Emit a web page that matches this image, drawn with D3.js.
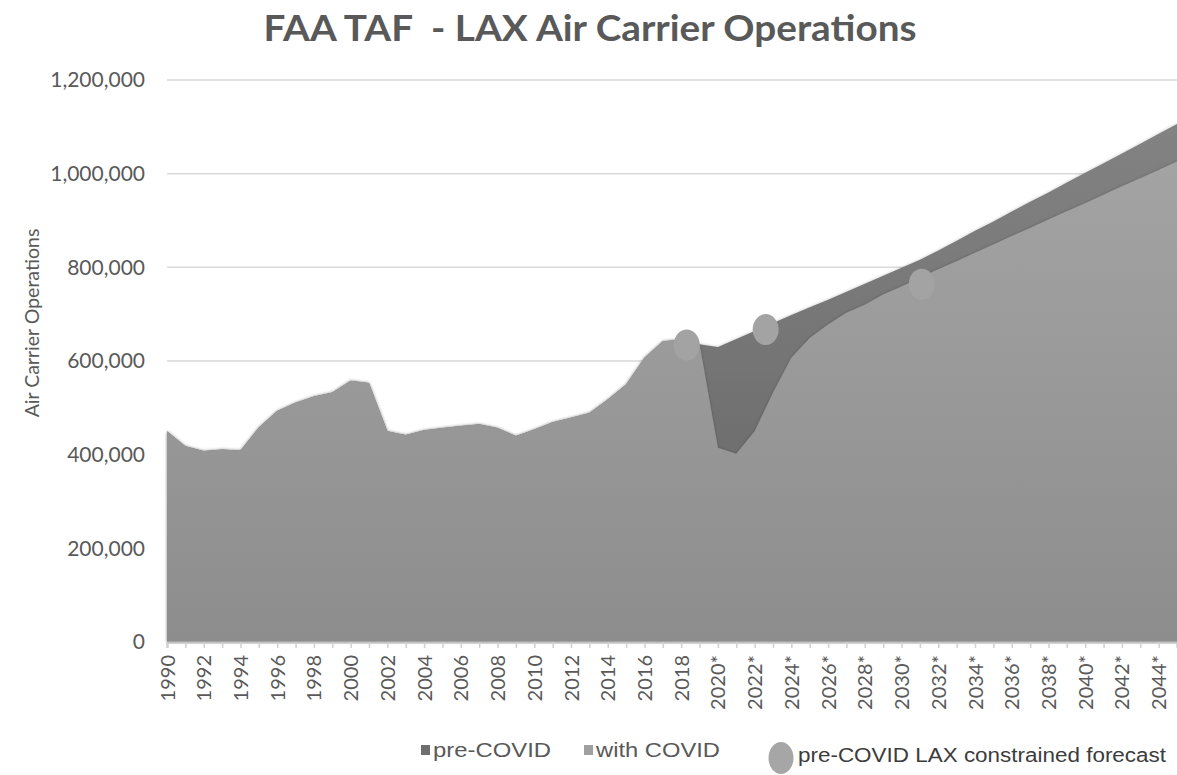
<!DOCTYPE html>
<html>
<head>
<meta charset="utf-8">
<script src="https://cdn.jsdelivr.net/npm/d3@7"></script>
<style>
  body { margin: 0; background: #fff; }
  svg { display: block; }
</style>
</head>
<body>
<div id="chart"></div>
<script>
// years on the category axis
let years = d3.range(1990, 2046);

// actuals, shared by both series (thousands of operations), 1990-2019
let historical = [450, 418, 408, 411, 409, 458, 493, 511, 524, 533,
    558, 553, 450, 442, 452, 457, 461, 465, 457, 440,
    454, 469, 479, 489, 518, 550, 607, 642, 646, 636];

// forecast 2020-2045
let preCovidForecast = [630, 647, 664, 681, 698, 715, 731, 748, 765, 782,
    799, 816, 836, 857, 878, 898, 919, 940, 960, 981,
    1002, 1022, 1043, 1064, 1085, 1106];
let withCovidForecast = [415, 402, 450, 532, 607, 649, 678, 703, 720, 742,
    759, 778, 796, 813, 831, 849, 867, 884, 902, 920,
    937, 955, 973, 990, 1008, 1026];

// pre-COVID LAX constrained forecast markers
let constrainedYears = [2018.3, 2022.6, 2031.1];
let constrainedValues = [634, 667, 764];

let xTickLabels = ['1990', '1992', '1994', '1996', '1998', '2000', '2002', '2004',
    '2006', '2008', '2010', '2012', '2014', '2016', '2018', '2020*', '2022*',
    '2024*', '2026*', '2028*', '2030*', '2032*', '2034*', '2036*', '2038*',
    '2040*', '2042*', '2044*'];
let yTicks = [0, 200000, 400000, 600000, 800000, 1000000, 1200000];

let width = 1177;
let height = 775;

let preCovid = historical.concat(preCovidForecast).map(function(v, i) {
    return {year: years[i], value: v * 1000};
});
let withCovid = historical.concat(withCovidForecast).map(function(v, i) {
    return {year: years[i], value: v * 1000};
});

let svg = d3.select('#chart')
    .append('svg')
    .attr('width', width)
    .attr('height', height);

let x = d3.scaleLinear().domain([1990, 2045]).range([167, 1177]);
let y = d3.scaleLinear().domain([0, 1200000]).range([642, 80]);

let font = 'Lato, "Open Sans", sans-serif';
let narrow = '"Liberation Sans Narrow", "Liberation Sans", Arial, sans-serif';

let defs = svg.append('defs');

function gradient(id, top, bottom) {
    let g = defs.append('linearGradient')
        .attr('id', id)
        .attr('gradientUnits', 'userSpaceOnUse')
        .attr('x1', 0).attr('x2', 0)
        .attr('y1', y(1200000)).attr('y2', y(0));
    g.append('stop').attr('offset', '0%').attr('stop-color', top);
    g.append('stop').attr('offset', '100%').attr('stop-color', bottom);
}
gradient('gradPre', '#858585', '#646464');
gradient('gradWith', '#a7a7a7', '#8d8d8d');

let shadow = defs.append('filter').attr('id', 'soft')
    .attr('x', '-5%').attr('y', '-5%').attr('width', '110%').attr('height', '110%');
shadow.append('feDropShadow')
    .attr('dx', 0).attr('dy', 0).attr('stdDeviation', 1.5)
    .attr('flood-color', '#000').attr('flood-opacity', 0.25);

// gridlines
svg.append('g')
    .selectAll('line')
    .data(yTicks.slice(1))
    .join('line')
    .attr('x1', x(1990)).attr('x2', x(2045))
    .attr('y1', d => y(d)).attr('y2', d => y(d))
    .attr('stroke', '#d9d9d9')
    .attr('stroke-width', 1.5);

let area = d3.area()
    .x(d => x(d.year))
    .y0(y(0))
    .y1(d => y(d.value));

svg.append('path')
    .datum(preCovid)
    .attr('d', area)
    .attr('fill', 'url(#gradPre)')
    .attr('filter', 'url(#soft)');

svg.append('path')
    .datum(withCovid)
    .attr('d', area)
    .attr('fill', 'url(#gradWith)')
    .attr('filter', 'url(#soft)');

// constrained forecast markers
svg.append('g')
    .selectAll('ellipse')
    .data(constrainedYears)
    .join('ellipse')
    .attr('cx', d => x(d))
    .attr('cy', (d, i) => y(constrainedValues[i] * 1000))
    .attr('rx', 13)
    .attr('ry', 15.5)
    .attr('fill', '#a3a3a3');

// x axis
let xAxis = d3.axisBottom(x)
    .tickValues(years)
    .tickSize(6)
    .tickFormat(function(d) {
        let label = xTickLabels.find(l => parseInt(l) === d);
        return label || '';
    });

let gx = svg.append('g')
    .attr('transform', 'translate(0,' + y(0) + ')')
    .call(xAxis);
gx.select('.domain').attr('stroke', '#bfbfbf').attr('stroke-width', 2);
gx.selectAll('.tick line').attr('stroke', '#d0d0d0').attr('stroke-width', 1.5);
gx.selectAll('.tick text')
    .attr('transform', 'rotate(-90)')
    .attr('text-anchor', 'end')
    .attr('x', -13)
    .attr('y', 0)
    .attr('dy', '0.35em')
    .attr('fill', '#595959')
    .style('font-family', font)
    .style('font-size', '20px');

// y axis labels
svg.append('g')
    .selectAll('text')
    .data(yTicks)
    .join('text')
    .attr('x', 145)
    .attr('y', d => y(d))
    .attr('dy', '0.35em')
    .attr('text-anchor', 'end')
    .attr('fill', '#595959')
    .style('font-family', font)
    .style('font-size', '21px')
    .text(d => d3.format(',')(d));

svg.append('text')
    .attr('transform', 'translate(39,323) rotate(-90)')
    .attr('text-anchor', 'middle')
    .attr('fill', '#595959')
    .style('font-family', font)
    .style('font-size', '19.5px')
    .text('Air Carrier Operations');

// title
svg.append('text')
    .attr('x', 590)
    .attr('y', 41)
    .attr('text-anchor', 'middle')
    .attr('fill', '#595959')
    .attr('textLength', 653)
    .attr('lengthAdjust', 'spacingAndGlyphs')
    .style('font-family', font)
    .style('font-weight', 'bold')
    .style('font-size', '36px')
    .style('white-space', 'pre')
    .text('FAA TAF  - LAX Air Carrier Operations');

// legend
let legendItems = [
    {label: 'pre-COVID', color: '#6e6e6e', x: 421, w: 118},
    {label: 'with COVID', color: '#a0a0a0', x: 584, w: 124}
];
let lg = svg.append('g');
legendItems.forEach(function(item) {
    lg.append('rect')
        .attr('x', item.x).attr('y', 745)
        .attr('width', 9).attr('height', 10)
        .attr('fill', item.color);
    lg.append('text')
        .attr('x', item.x + 12).attr('y', 757)
        .attr('fill', '#595959')
        .attr('textLength', item.w)
        .attr('lengthAdjust', 'spacingAndGlyphs')
        .style('font-family', narrow)
        .style('font-size', '20px')
        .text(item.label);
});
lg.append('ellipse')
    .attr('cx', 781).attr('cy', 758)
    .attr('rx', 12.5).attr('ry', 16)
    .attr('fill', '#a6a6a6');
lg.append('text')
    .attr('x', 798).attr('y', 762)
    .attr('fill', '#3c3c3c')
    .attr('textLength', 368)
    .attr('lengthAdjust', 'spacingAndGlyphs')
    .style('font-family', narrow)
    .style('font-size', '20px')
    .text('pre-COVID LAX constrained forecast');
</script>
</body>
</html>
